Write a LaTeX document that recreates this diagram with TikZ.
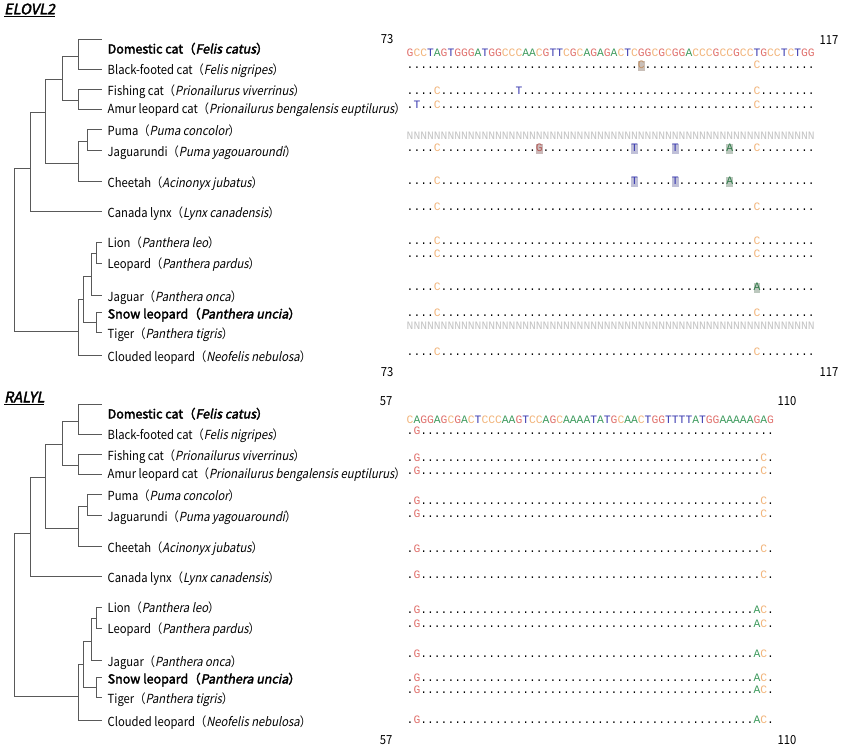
\documentclass[tikz,border=0pt]{standalone}
\usepackage{fontspec}
\setmainfont{Noto Sans CJK JP}[UprightFeatures={FakeStretch=0.9},BoldFont={Noto Sans CJK JP},BoldFeatures={FakeBold=2.5,FakeStretch=1.0},ItalicFont={Noto Sans CJK JP},ItalicFeatures={FakeSlant=0.2,FakeStretch=0.9},BoldItalicFont={Noto Sans CJK JP},BoldItalicFeatures={FakeBold=2.5,FakeSlant=0.2,FakeStretch=1.0}]
\newfontfamily\seqfont{Liberation Mono}
\definecolor{nA}{HTML}{3E9B5E}
\definecolor{nC}{HTML}{F2B47A}
\definecolor{nG}{HTML}{E0706C}
\definecolor{nT}{HTML}{3A3AB0}
\definecolor{nN}{HTML}{C4C4C4}
\definecolor{hA}{HTML}{BCC8BE}
\definecolor{hC}{HTML}{C9BFB8}
\definecolor{hG}{HTML}{CBB9B9}
\definecolor{hT}{HTML}{C0C0D8}
\newcommand\hlbox[3]{{\setlength{\fboxsep}{0pt}\colorbox{#1}{\rule[-2.5pt]{0pt}{10pt}\textcolor{#2}{#3}}}}
\def\seqletter#1{%
 \if#1A\textcolor{nA}{A}\else
 \if#1C\textcolor{nC}{C}\else
 \if#1G\textcolor{nG}{G}\else
 \if#1T\textcolor{nT}{T}\else
 \if#1N\textcolor{nN}{N}\else
 \if#1a\hlbox{hA}{nA!80!black}{A}\else
 \if#1c\hlbox{hC}{nC!80!black}{C}\else
 \if#1g\hlbox{hG}{nG!80!black}{G}\else
 \if#1t\hlbox{hT}{nT}{T}\else
 #1\fi\fi\fi\fi\fi\fi\fi\fi\fi}
\def\seqcolA#1{\ifx\relax#1\else\seqletter{#1}\expandafter\seqcolA\fi}
\newcommand\seqcol[1]{\seqcolA#1\relax}
\tikzset{
 tree/.style={draw=black!65, line width=0.9pt},
 lab/.style={anchor=base west, inner sep=0pt, font=\fontsize{12.5}{15}\selectfont},
 seqrow/.style={anchor=base west, inner sep=0pt, font=\seqfont\fontsize{11.333}{12}\selectfont},
 num/.style={inner sep=0pt, font=\fontsize{12.5}{14}\selectfont},
 ttl/.style={anchor=west, inner sep=0pt, font=\fontsize{14.5}{16}\selectfont\bfseries\itshape}
}
\newcommand\mktree[1]{%
 \coordinate (#1Ldom) at (102,39.3);
 \coordinate (#1Lbf) at (102,69.3);
 \coordinate (#1Lfish) at (102,89.3);
 \coordinate (#1Lamur) at (102,109.3);
 \coordinate (#1Lpuma) at (102,129.3);
 \coordinate (#1Ljagu) at (102,150.7);
 \coordinate (#1Lchee) at (102,181.7);
 \coordinate (#1Llynx) at (102,211.7);
 \coordinate (#1Llion) at (102,242.7);
 \coordinate (#1Lleop) at (102,263);
 \coordinate (#1Ljag) at (102,295.7);
 \coordinate (#1Lsnow) at (102,312);
 \coordinate (#1Ltig) at (102,332);
 \coordinate (#1Lclou) at (102,355.7);
 \coordinate (#1felis) at (78.3,56);
 \coordinate (#1prion) at (78.3,100);
 \coordinate (#1fp) at (62.7,79.3);
 \coordinate (#1puma) at (87.3,141.7);
 \coordinate (#1pc) at (78.3,163.3);
 \coordinate (#1mid) at (45.7,112.7);
 \coordinate (#1felinae) at (30.7,168);
 \coordinate (#1ll) at (96.7,253);
 \coordinate (#1llj) at (91,276);
 \coordinate (#1st) at (96.7,322.7);
 \coordinate (#1pan) at (83.3,299);
 \coordinate (#1pantherinae) at (78.3,331);
 \coordinate (#1root) at (14,250);
 \draw[tree] (#1root) |- (#1felinae);
 \draw[tree] (#1root) |- (#1pantherinae);
 \draw[tree] (#1felinae) |- (#1mid);
 \draw[tree] (#1felinae) |- (#1Llynx);
 \draw[tree] (#1mid) |- (#1fp);
 \draw[tree] (#1mid) |- (#1pc);
 \draw[tree] (#1fp) |- (#1felis);
 \draw[tree] (#1fp) |- (#1prion);
 \draw[tree] (#1felis) |- (#1Ldom);
 \draw[tree] (#1felis) |- (#1Lbf);
 \draw[tree] (#1prion) |- (#1Lfish);
 \draw[tree] (#1prion) |- (#1Lamur);
 \draw[tree] (#1pc) |- (#1puma);
 \draw[tree] (#1pc) |- (#1Lchee);
 \draw[tree] (#1puma) |- (#1Lpuma);
 \draw[tree] (#1puma) |- (#1Ljagu);
 \draw[tree] (#1pantherinae) |- (#1pan);
 \draw[tree] (#1pantherinae) |- (#1Lclou);
 \draw[tree] (#1pan) |- (#1llj);
 \draw[tree] (#1pan) |- (#1st);
 \draw[tree] (#1llj) |- (#1ll);
 \draw[tree] (#1llj) |- (#1Ljag);
 \draw[tree] (#1ll) |- (#1Llion);
 \draw[tree] (#1ll) |- (#1Lleop);
 \draw[tree] (#1st) |- (#1Lsnow);
 \draw[tree] (#1st) |- (#1Ltig);
 \node[lab] (#1n1) at (107.5,53.5) {\textbf{Domestic cat（\textit{Felis catus}）}};
 \node[lab] (#1n2) at (107.5,74.5) {Black-footed cat（\textit{Felis nigripes}）};
 \node[lab] (#1n3) at (107.5,95.5) {Fishing cat（\textit{Prionailurus viverrinus}）};
 \node[lab] (#1n4) at (107.5,113.8) {Amur leopard cat（\textit{Prionailurus bengalensis euptilurus}）};
 \node[lab] (#1n5) at (107.5,135.5) {Puma（\textit{Puma concolor}）};
 \node[lab] (#1n6) at (107.5,156.2) {Jaguarundi（\textit{Puma yagouaroundi}）};
 \node[lab] (#1n7) at (107.5,187.2) {Cheetah（\textit{Acinonyx jubatus}）};
 \node[lab] (#1n8) at (107.5,217.2) {Canada lynx（\textit{Lynx canadensis}）};
 \node[lab] (#1n9) at (107.5,247.5) {Lion（\textit{Panthera leo}）};
 \node[lab] (#1n10) at (107.5,268.5) {Leopard（\textit{Panthera pardus}）};
 \node[lab] (#1n11) at (107.5,301.2) {Jaguar（\textit{Panthera onca}）};
 \node[lab] (#1n12) at (107.5,318.5) {\textbf{Snow leopard（\textit{Panthera uncia}）}};
 \node[lab] (#1n13) at (107.5,338.5) {Tiger（\textit{Panthera tigris}）};
 \node[lab] (#1n14) at (107.5,361.2) {Clouded leopard（\textit{Neofelis nebulosa}）};
}
\begin{document}
\begin{tikzpicture}[x=1pt,y=-1pt]
\useasboundingbox[fill=white] (0,0) rectangle (850,750);
% ---------------- ELOVL2 ----------------
\node[ttl] (t1) at (4,10) {\underline{ELOVL2}};
\mktree{e}
\node[num] (e73a) at (387,39) {73};
\node[num] (e117a) at (829,40) {117};
\node[num] (e73b) at (387,372) {73};
\node[num] (e117b) at (829,372) {117};
\node[seqrow] (es1) at (406.5,56.5) {\seqcol{GCCTAGTGGG ATGGCCCAAC GTTCGCAGAG ACTCGGCGCG GACCCGCCGC CTGCCTCTGG}};
\node[seqrow] (es2) at (406.5,68.7) {\seqcol{.......... .......... .......... ....c..... .......... .C........}};
\node[seqrow] (es3) at (406.5,94.3) {\seqcol{....C..... ......T... .......... .......... .......... .C........}};
\node[seqrow] (es4) at (406.5,108.7) {\seqcol{.T..C..... .......... .......... .......... .......... .C........}};
\node[seqrow] (es5) at (406.5,139.5) {\seqcol{NNNNNNNNNN NNNNNNNNNN NNNNNNNNNN NNNNNNNNNN NNNNNNNNNN NNNNNNNNNN}};
\node[seqrow] (es6) at (406.5,151.7) {\seqcol{....C..... .........g .......... ...t.....t .......a.. .C........}};
\node[seqrow] (es7) at (406.5,184.3) {\seqcol{....C..... .......... .......... ...t.....t .......a.. ..........}};
\node[seqrow] (es8) at (406.5,210) {\seqcol{....C..... .......... .......... .......... .......... .C........}};
\node[seqrow] (es9) at (406.5,244.3) {\seqcol{....C..... .......... .......... .......... .......... .C........}};
\node[seqrow] (es10) at (406.5,257.7) {\seqcol{....C..... .......... .......... .......... .......... .C........}};
\node[seqrow] (es11) at (406.5,290) {\seqcol{....C..... .......... .......... .......... .......... .a........}};
\node[seqrow] (es12) at (406.5,316) {\seqcol{....C..... .......... .......... .......... .......... .C........}};
\node[seqrow] (es13) at (406.5,329.5) {\seqcol{NNNNNNNNNN NNNNNNNNNN NNNNNNNNNN NNNNNNNNNN NNNNNNNNNN NNNNNNNNNN}};
\node[seqrow] (es14) at (406.5,355) {\seqcol{....C..... .......... .......... .......... .......... .C........}};
% ---------------- RALYL ----------------
\node[ttl] (t2) at (4,398) {\underline{RALYL}};
\begin{scope}[yshift=-365pt]
\mktree{r}
\end{scope}
\node[num] (r57a) at (386,401) {57};
\node[num] (r110a) at (787,401) {110};
\node[num] (r57b) at (386,740) {57};
\node[num] (r110b) at (787,740) {110};
\node[seqrow] (rs1) at (406.5,423) {\seqcol{CAGGAGCGAC TCCCAAGTCC AGCAAAATAT GCAACTGGTT TTATGGAAAA AGAG}};
\node[seqrow] (rs2) at (406.5,434.3) {\seqcol{.G........ .......... .......... .......... .......... ....}};
\node[seqrow] (rs3) at (406.5,461) {\seqcol{.G........ .......... .......... .......... .......... ..C.}};
\node[seqrow] (rs4) at (406.5,474.3) {\seqcol{.G........ .......... .......... .......... .......... ..C.}};
\node[seqrow] (rs5) at (406.5,504.3) {\seqcol{.G........ .......... .......... .......... .......... ..C.}};
\node[seqrow] (rs6) at (406.5,517.7) {\seqcol{.G........ .......... .......... .......... .......... ..C.}};
\node[seqrow] (rs7) at (406.5,552) {\seqcol{.G........ .......... .......... .......... .......... ..C.}};
\node[seqrow] (rs8) at (406.5,578.3) {\seqcol{.G........ .......... .......... .......... .......... ..C.}};
\node[seqrow] (rs9) at (406.5,613.3) {\seqcol{.G........ .......... .......... .......... .......... .AC.}};
\node[seqrow] (rs10) at (406.5,627) {\seqcol{.G........ .......... .......... .......... .......... .AC.}};
\node[seqrow] (rs11) at (406.5,657.7) {\seqcol{.G........ .......... .......... .......... .......... .AC.}};
\node[seqrow] (rs12) at (406.5,681) {\seqcol{.G........ .......... .......... .......... .......... .AC.}};
\node[seqrow] (rs13) at (406.5,693.7) {\seqcol{.G........ .......... .......... .......... .......... .AC.}};
\node[seqrow] (rs14) at (406.5,723.3) {\seqcol{.G........ .......... .......... .......... .......... .AC.}};
\end{tikzpicture}
\end{document}
